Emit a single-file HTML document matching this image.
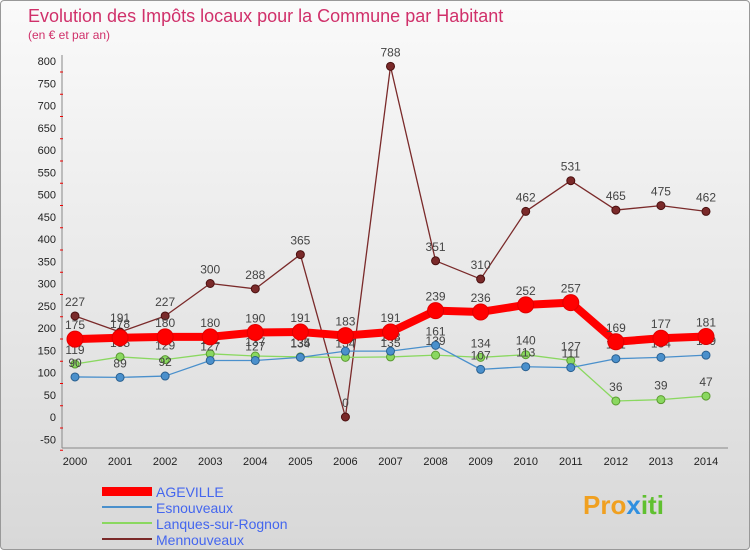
<!DOCTYPE html>
<html><head><meta charset="utf-8"><style>
body{margin:0;width:750px;height:550px;overflow:hidden;font-family:"Liberation Sans",sans-serif}
</style></head><body>
<div style="position:absolute;left:0;top:0;width:748px;height:548px;border:1px solid #999;border-radius:4px;background:linear-gradient(#fafafa,#d8d8d8)"></div>
<svg id="c" width="750" height="550" style="position:absolute;left:0;top:0" font-family="Liberation Sans, sans-serif">
<text x="28" y="22" font-size="18" fill="#d0306a">Evolution des Impôts locaux pour la Commune par Habitant</text>
<text x="28" y="39" font-size="12" fill="#d0306a">(en € et par an)</text>
<g id="axes"></g><g id="series"></g>
<g>
<rect x="102" y="487" width="50" height="9" fill="#ff0000"/><text x="156" y="497" font-size="14" fill="#4466ee">AGEVILLE</text>
<rect x="102" y="506" width="50" height="2" fill="#4a90cc"/><text x="156" y="513" font-size="14" fill="#4466ee">Esnouveaux</text>
<rect x="102" y="522" width="50" height="2" fill="#8ad860"/><text x="156" y="529" font-size="14" fill="#4466ee">Lanques-sur-Rognon</text>
<rect x="102" y="538" width="50" height="2" fill="#7a2a2a"/><text x="156" y="545" font-size="14" fill="#4466ee">Mennouveaux</text>
</g>
<text x="583" y="514" font-size="26" font-weight="bold" fill="#f0a020">Pro<tspan fill="#3090e0">x</tspan><tspan fill="#60c030">iti</tspan></text>
</svg>
<script>
const years=[2000,2001,2002,2003,2004,2005,2006,2007,2008,2009,2010,2011,2012,2013,2014];
const yTicks=[-50,0,50,100,150,200,250,300,350,400,450,500,550,600,650,700,750,800];
const ageville=[175,178,180,180,190,191,183,191,239,236,252,257,169,177,181];
const esnouveaux=[90,89,92,127,127,134,148,148,161,107,113,111,131,134,139];
const lanques=[119,135,129,142,137,135,134,135,139,134,140,127,36,39,47];
const mennouveaux=[227,191,227,300,288,365,0,788,351,310,462,531,465,475,462];
const NS="http://www.w3.org/2000/svg";
const xs=i=>75+i*(706-75)/(years.length-1);
const ys=v=>417-v*(417-61)/800;
function mk(t,a,p){const e=document.createElementNS(NS,t);for(const k in a)e.setAttribute(k,a[k]);p.appendChild(e);return e;}
const ax=document.getElementById('axes'),se=document.getElementById('series');
const axl=mk('line',{x1:62,y1:55,x2:62,y2:448,stroke:'#888'},ax);


const bx=mk('line',{x1:62,y1:448,x2:728,y2:448,stroke:'#888'},ax);


yTicks.forEach(v=>{const t=mk('text',{x:56,y:ys(v)+4,'font-size':11,'text-anchor':'end',fill:'#222'},ax);t.textContent=v;


mk('line',{x1:60,y1:ys(v)+11,x2:63,y2:ys(v)+11,stroke:'#e00'},ax);});
years.forEach((y,i)=>{const t=mk('text',{x:xs(i),y:465,'font-size':11,'text-anchor':'middle',fill:'#222'},ax);t.textContent=y;

});
function series(name,data,col,w,r,dark){
const g=mk('g',{},se);


mk('polyline',{points:data.map((v,i)=>xs(i)+','+ys(v)).join(' '),fill:'none',stroke:col,'stroke-width':w,'stroke-linejoin':'round'},g);
data.forEach((v,i)=>{const c=mk('circle',{cx:xs(i),cy:ys(v),r:r,fill:col,stroke:dark,'stroke-width':1},g);


const t=mk('text',{x:xs(i),y:ys(v)-10,'font-size':12,'text-anchor':'middle',fill:'#444'},g);t.textContent=v;

});}
series('mennouveaux-series',mennouveaux,'#7a2a2a',1.3,4,'#4a1010');
series('lanques-series',lanques,'#8ad860',1.3,4,'#5a9a30');
series('esnouveaux-series',esnouveaux,'#4a90cc',1.3,4,'#2a6090');
series('ageville-series',ageville,'#ff0000',8,8,'#e00000');
</script>
</body></html>
